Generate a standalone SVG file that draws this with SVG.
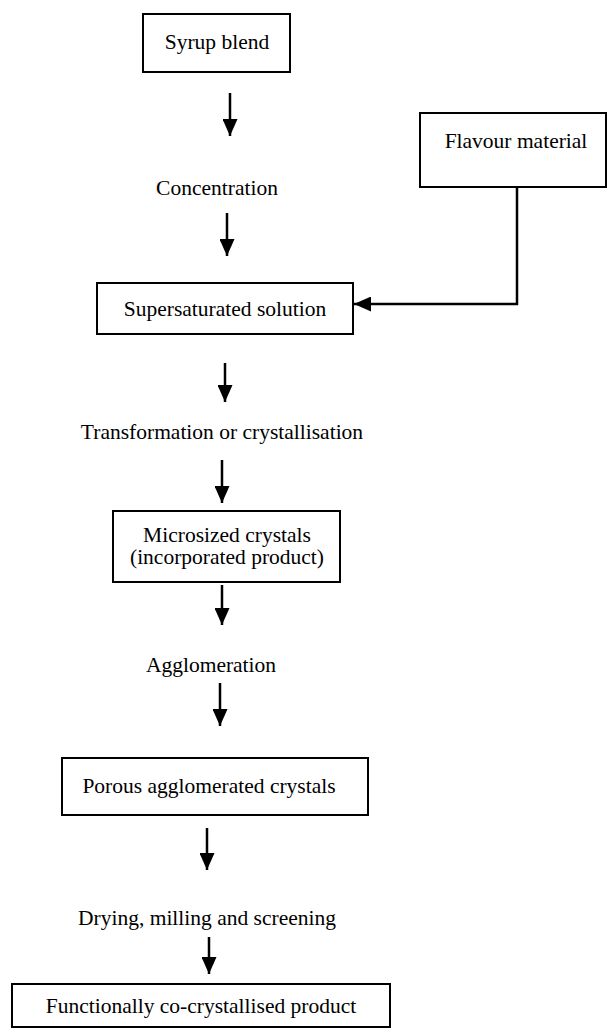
<svg xmlns="http://www.w3.org/2000/svg" width="607" height="1029" viewBox="0 0 607 1029">
<style>
.box{fill:#fff;stroke:#000;stroke-width:2}
.t{font-family:"Liberation Serif","Times New Roman",serif;font-size:21.5px;fill:#000;text-anchor:middle}
.ln{stroke:#000;stroke-width:2.5;fill:none}
</style>
<defs>
<marker id="ah" markerWidth="17" markerHeight="15" refX="17" refY="7.5" orient="auto" markerUnits="userSpaceOnUse" viewBox="0 0 17 15">
<path d="M0,0 L17,7.5 L0,15 Z" fill="#000"/>
</marker>
</defs>
<rect width="607" height="1029" fill="#fff"/>
<g id="syrup"><rect class="box" x="143" y="14" width="147" height="58"/><text class="t" x="217" y="49">Syrup blend</text></g>
<g id="concentration"><text class="t" x="217" y="195">Concentration</text></g>
<g id="flavour"><rect class="box" x="420" y="113" width="186" height="74"/><text class="t" x="516" y="148">Flavour material</text></g>
<g id="supersat"><rect class="box" x="97" y="283" width="256" height="51"/><text class="t" x="225" y="316">Supersaturated solution</text></g>
<g id="transformation"><text class="t" x="222" y="439">Transformation or crystallisation</text></g>
<g id="microsized"><rect class="box" x="113" y="511" width="227" height="71"/><text class="t" x="227" y="542">Microsized crystals</text><text class="t" x="227" y="564">(incorporated product)</text></g>
<g id="agglomeration"><text class="t" x="211" y="672">Agglomeration</text></g>
<g id="porous"><rect class="box" x="62" y="758" width="306" height="57"/><text class="t" x="209" y="793">Porous agglomerated crystals</text></g>
<g id="drying"><text class="t" x="207" y="925">Drying, milling and screening</text></g>
<g id="product"><rect class="box" x="12" y="984" width="378" height="43"/><text class="t" x="201" y="1013">Functionally co-crystallised product</text></g>
<g id="connectors">
<line class="ln" x1="230" y1="93" x2="230" y2="136" marker-end="url(#ah)"/>
<line class="ln" x1="227" y1="213" x2="227" y2="256" marker-end="url(#ah)"/>
<polyline class="ln" points="517,187 517,304 354,304" marker-end="url(#ah)"/>
<line class="ln" x1="225" y1="363" x2="225" y2="402" marker-end="url(#ah)"/>
<line class="ln" x1="222" y1="460" x2="222" y2="503" marker-end="url(#ah)"/>
<line class="ln" x1="222" y1="585" x2="222" y2="625" marker-end="url(#ah)"/>
<line class="ln" x1="220" y1="683" x2="220" y2="726" marker-end="url(#ah)"/>
<line class="ln" x1="207" y1="828" x2="207" y2="870" marker-end="url(#ah)"/>
<line class="ln" x1="209" y1="937" x2="209" y2="974" marker-end="url(#ah)"/>
</g>
</svg>
